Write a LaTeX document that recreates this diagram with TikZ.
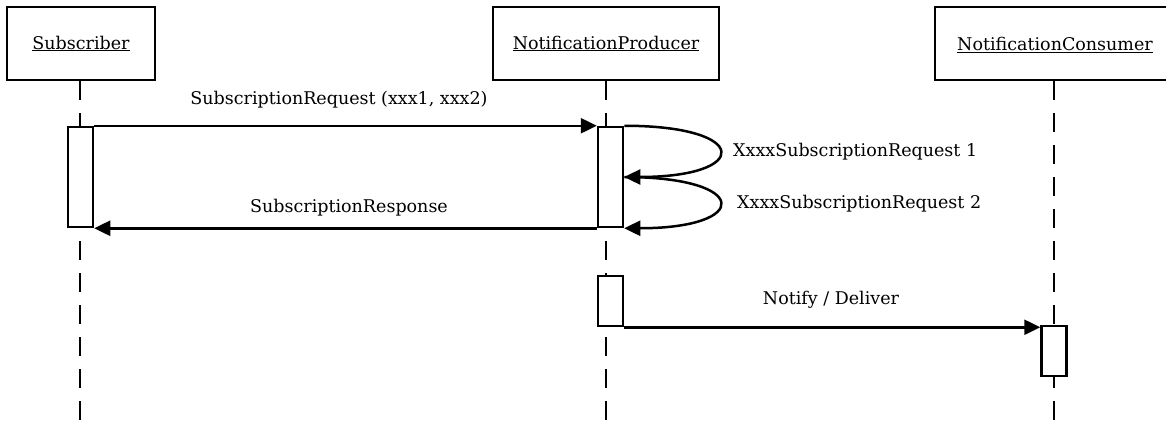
\documentclass[tikz,border=0pt]{standalone}
\usepackage{fontspec}
\setmainfont{DejaVu Serif}
\usetikzlibrary{arrows.meta}
\tikzset{
  txt/.style={font=\fontsize{17.5}{20}\selectfont, inner sep=0pt},
  actor/.style={draw, line width=2.5pt, minimum height=73pt, inner sep=0pt, txt},
  act/.style={draw, line width=2.5pt, fill=white, minimum width=25pt, inner sep=0pt},
  life/.style={line width=2.5pt, dash pattern=on 19pt off 13pt},
  msg/.style={line width=2.5pt, -{Triangle[length=16pt,width=15pt]}},
}
\begin{document}
\begin{tikzpicture}[x=1pt,y=-1pt]
  \useasboundingbox (0,0) rectangle (1166,423);
  \clip (0,0) rectangle (1166,423);

  % participants
  \node[actor, minimum width=148pt] (sub)  at (81,43.5)   {\underline{Subscriber}};
  \node[actor, minimum width=226pt] (prod) at (606,43.5)  {\underline{NotificationProducer}};
  \node[actor, minimum width=260pt] (cons) at (1065,43.5) {};
  \node[txt] (consName) at (1055,45) {\underline{NotificationConsumer}};

  % lifelines
  \coordinate (subEnd)  at (80,423);
  \coordinate (prodEnd) at (606,423);
  \coordinate (consEnd) at (1054,423);
  \draw[life] (sub.south -| subEnd) -- (subEnd);
  \draw[life] (prod.south -| prodEnd) -- (prodEnd);
  \draw[life] (cons.south -| consEnd) -- (consEnd);

  % activation bars
  \node[act, minimum height=100pt] (a1) at (80.5,177)  {};
  \node[act, minimum height=100pt] (a2) at (610.5,177) {};
  \node[act, minimum height=50pt]  (a3) at (610.5,301) {};
  \node[act, minimum height=50pt]  (a4) at (1054,351)  {};

  % messages
  \draw[msg] (a1.north east) -- (a2.north west);
  \draw[msg] (a2.south west) -- (a1.south east);
  \draw[msg] (a2.north east) .. controls +(127,0) and +(127,0) .. (a2.east);
  \draw[msg] (a2.east) .. controls +(127,0) and +(127,0) .. (a2.south east);
  \draw[msg] (a3.south east) -- (a3.south east -| a4.west);

  % message labels
  \node[txt] (l1) at (339,100) {SubscriptionRequest (xxx1, xxx2)};
  \node[txt] (l2) at (349,208) {SubscriptionResponse};
  \node[txt, anchor=west] (l3) at (733,152) {XxxxSubscriptionRequest 1};
  \node[txt, anchor=west] (l4) at (737,204) {XxxxSubscriptionRequest 2};
  \node[txt] (l5) at (831,300) {Notify / Deliver};
\end{tikzpicture}
\end{document}
